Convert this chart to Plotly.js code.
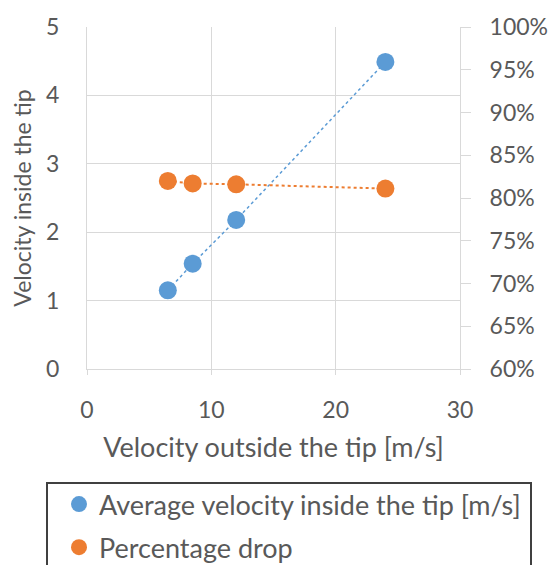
<!DOCTYPE html>
<html>
<head>
<meta charset="utf-8">
<script src="https://cdn.plot.ly/plotly-3.0.1.min.js"></script>
<style>html,body{margin:0;padding:0;background:#fff;}#chart{width:550px;height:565px;}</style>
</head>
<body>
<div id="chart"></div>
<script>
// Data
var velocityOutside = [6.5, 8.5, 12, 24];
var avgVelocityInside = [1.15, 1.54, 2.18, 4.49];
var percentageDrop = [0.82, 0.817, 0.816, 0.811];
var seriesNames = ["Average velocity inside the tip [m/s]", "Percentage drop"];
var xTitle = "Velocity outside the tip [m/s]";
var yTitle = "Velocity inside the tip";

var FONT = "Lato, 'Open Sans', sans-serif";
var TXT = "#595959";
var GRID = "#D9D9D9";
var BLUE = "#5B9BD5";
var ORANGE = "#ED7D31";
var TICK = 23, TITLE = 27, YTITLE = 23;

// paper geometry (px) used to place the legend frame
var PAPER_H = 565 - 196;       // paper spans from top of figure to plot bottom
var TOP_GAP = 27;              // plot starts 27px below figure top
function py(px) { return (PAPER_H - px) / PAPER_H; }
function pxX(px) { return (px - 87) / 373; }

var traces = [
  {
    x: velocityOutside, y: avgVelocityInside, name: seriesNames[0],
    type: "scatter", mode: "lines", showlegend: false,
    line: {color: BLUE, width: 1.5, dash: "dot"}, yaxis: "y"
  },
  {
    x: velocityOutside, y: percentageDrop, name: seriesNames[1],
    type: "scatter", mode: "lines", showlegend: false,
    line: {color: ORANGE, width: 2, dash: "dot"}, yaxis: "y2"
  },
  {
    x: velocityOutside, y: avgVelocityInside, name: seriesNames[0],
    type: "scatter", mode: "markers", legendgroup: "a",
    marker: {color: BLUE, size: 18}, yaxis: "y"
  },
  {
    x: velocityOutside, y: percentageDrop, name: seriesNames[1],
    type: "scatter", mode: "markers", legendgroup: "b",
    marker: {color: ORANGE, size: 18}, yaxis: "y2"
  }
];

var layout = {
  width: 550, height: 565,
  margin: {l: 87, r: 90, t: 0, b: 196, pad: 0, autoexpand: false},
  paper_bgcolor: "#fff", plot_bgcolor: "#fff",
  font: {family: FONT, color: TXT, size: TICK},
  showlegend: true,
  xaxis: {
    range: [0, 30], dtick: 10, tick0: 0,
    showgrid: true, gridcolor: GRID, gridwidth: 1,
    zeroline: false, showline: true, linecolor: GRID, linewidth: 1,
    ticks: "outside", ticklen: 5, tickcolor: GRID,
    ticklabelstandoff: 15,
    tickfont: {family: FONT, size: TICK, color: TXT},
    title: {text: xTitle, font: {family: FONT, size: TITLE, color: TXT}, standoff: 16},
    automargin: false, fixedrange: true
  },
  yaxis: {
    domain: [0, py(TOP_GAP)],
    range: [0, 5], dtick: 1, tick0: 0,
    showgrid: true, gridcolor: GRID, gridwidth: 1,
    zeroline: false, showline: true, linecolor: GRID, linewidth: 1,
    ticks: "", ticklabelstandoff: 22,
    tickfont: {family: FONT, size: TICK, color: TXT},
    title: {text: yTitle, font: {family: FONT, size: YTITLE, color: TXT}, standoff: 8},
    automargin: false, fixedrange: true
  },
  yaxis2: {
    overlaying: "y", side: "right",
    range: [0.6, 1.0], dtick: 0.05, tick0: 0.6, tickformat: ".0%",
    showgrid: false, zeroline: false,
    showline: true, linecolor: GRID, linewidth: 1,
    ticks: "outside", ticklen: 10, tickcolor: GRID,
    ticklabelstandoff: 14,
    tickfont: {family: FONT, size: TICK, color: TXT},
    automargin: false, fixedrange: true
  },
  legend: {
    x: pxX(59), xanchor: "left", y: py(572), yanchor: "bottom",
    orientation: "v",
    borderwidth: 0, bgcolor: "rgba(0,0,0,0)",
    font: {family: FONT, size: TITLE, color: TXT},
    tracegroupgap: 5, itemwidth: 30
  },
  shapes: [
    {
      type: "rect", xref: "paper", yref: "paper",
      x0: pxX(47), x1: pxX(531),
      y0: py(483), y1: py(600),
      line: {color: "#404040", width: 2}, fillcolor: "rgba(0,0,0,0)", layer: "below"
    }
  ]
};

Plotly.newPlot("chart", traces, layout, {displayModeBar: false, staticPlot: true});
</script>
</body>
</html>
